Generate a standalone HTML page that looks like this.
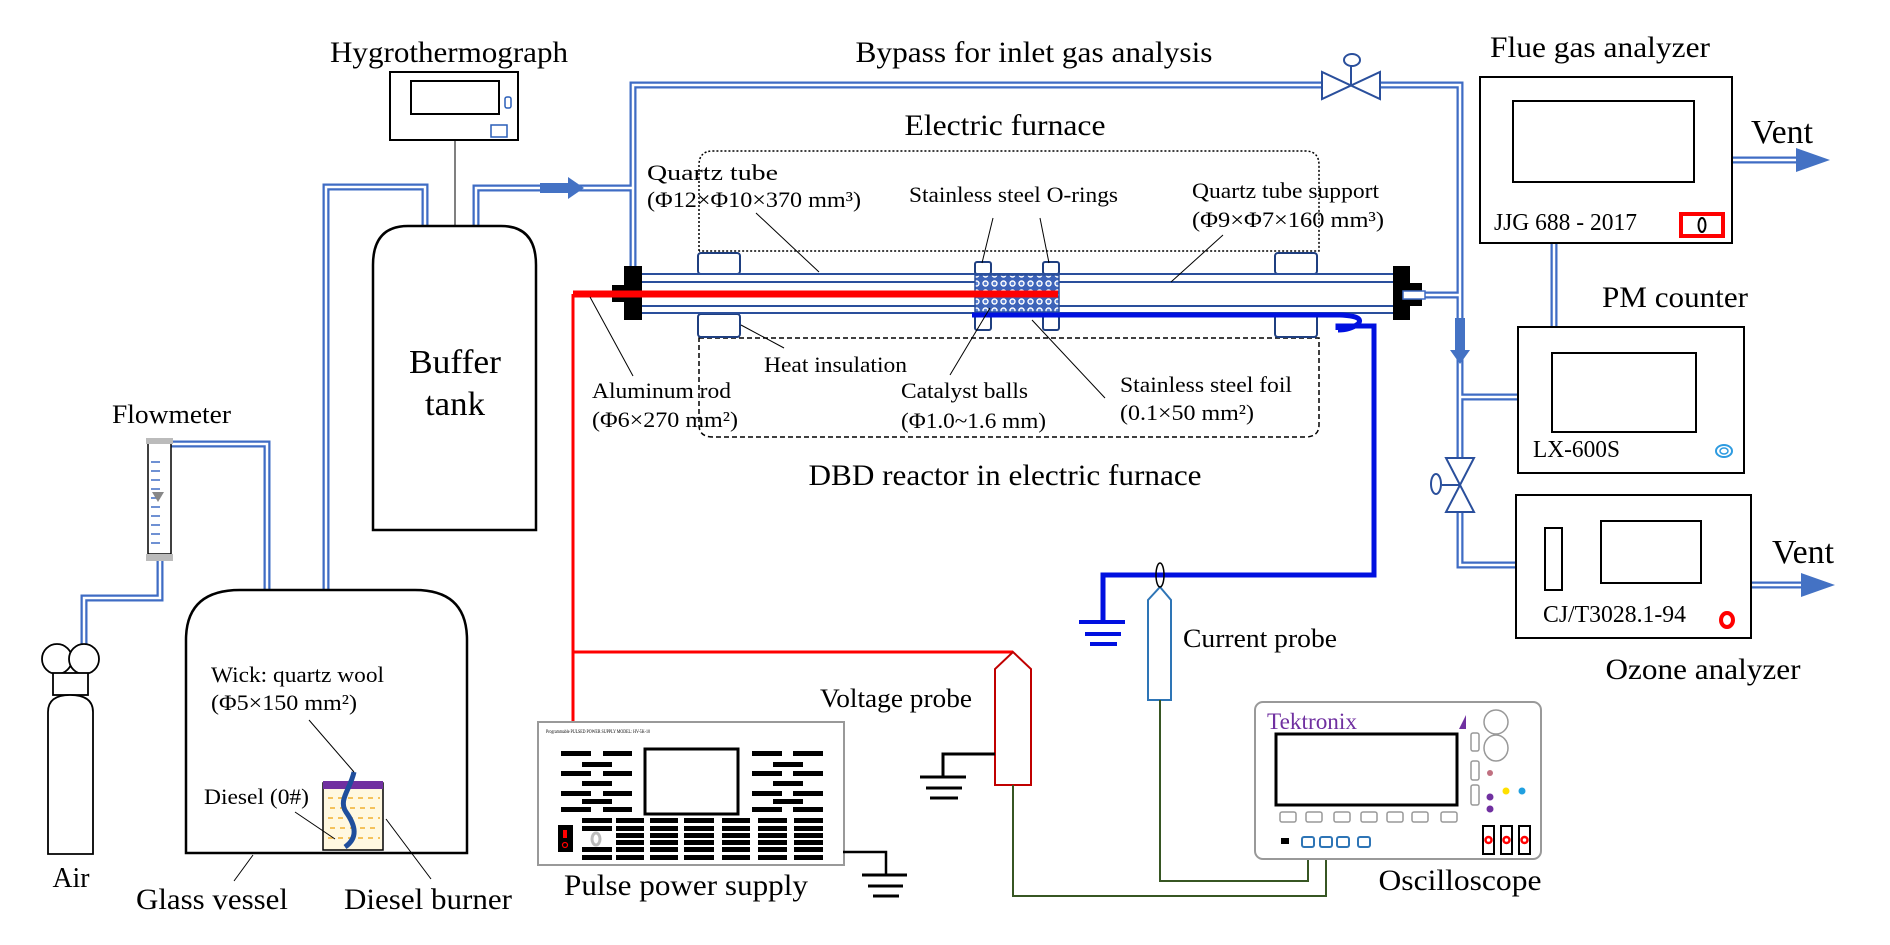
<!DOCTYPE html>
<html><head><meta charset="utf-8"><style>
html,body{margin:0;padding:0;background:#fff;}
svg{display:block;}
text{font-family:"Liberation Serif",serif;fill:#000;}
</style></head><body>
<svg width="1890" height="945" viewBox="0 0 1890 945" xmlns="http://www.w3.org/2000/svg">
<defs>
<pattern id="cat" width="9" height="9" patternUnits="userSpaceOnUse">
<rect width="9" height="9" fill="#3d63b8"/>
<circle cx="4.5" cy="4.5" r="3.2" fill="#fff"/>
<circle cx="4.5" cy="4.5" r="1.8" fill="#5a80d0"/>
</pattern>
</defs>
<rect width="1890" height="945" fill="#fff"/>

<!-- pipes -->
<g fill="none" stroke-linejoin="miter">
<g stroke="#3f6cc4" stroke-width="7">
<path d="M171,444 H267 V590"/>
<path d="M160,561 V598 H84 V644"/>
<path d="M326,590 V187 H425 V226"/>
<path d="M476,226 V188 H633"/>
<path d="M633,290 V85 H1322"/>
<path d="M1380,85 H1460 V458"/>
<path d="M1403,295 H1460"/>
<path d="M1460,397 H1518"/>
<path d="M1460,512 V565 H1516"/>
<path d="M1554,243 V327"/>
<path d="M1732,160 H1800"/>
<path d="M1751,585 H1805"/>
</g>
<g stroke="#fff" stroke-width="2.5">
<path d="M171,444 H267 V590"/>
<path d="M160,561 V598 H84 V644"/>
<path d="M326,590 V187 H425 V226"/>
<path d="M476,226 V188 H633"/>
<path d="M633,290 V85 H1322"/>
<path d="M1380,85 H1460 V458"/>
<path d="M1403,295 H1460"/>
<path d="M1460,397 H1518"/>
<path d="M1460,512 V565 H1516"/>
<path d="M1554,243 V327"/>
<path d="M1732,160 H1800"/>
<path d="M1751,585 H1805"/>
</g>
</g>
<!-- arrows -->
<rect x="540" y="183" width="30" height="10" fill="#4472c4"/>
<polygon points="568,177 584,188 568,199" fill="#4472c4"/>
<rect x="1455" y="318" width="10" height="34" fill="#4472c4"/>
<polygon points="1450,350 1470,350 1460,364" fill="#4472c4"/>
<polygon points="1796,148 1830,160 1796,172" fill="#4472c4"/>
<polygon points="1801,573 1835,585 1801,597" fill="#4472c4"/>

<!-- valves -->
<g fill="#fff" stroke="#2a4f9c" stroke-width="2">
<polygon points="1322,72 1322,99 1380,72 1380,99"/>
<line x1="1351" y1="85" x2="1351" y2="66"/>
<ellipse cx="1352" cy="60" rx="8" ry="6"/>
<polygon points="1446,458 1474,458 1446,512 1474,512"/>
<line x1="1460" y1="485" x2="1442" y2="485"/>
<ellipse cx="1436" cy="484" rx="5" ry="10"/>
</g>

<!-- hygrothermograph -->
<rect x="390" y="72" width="128" height="68" fill="#fff" stroke="#000" stroke-width="2"/>
<rect x="411" y="81" width="88" height="33" fill="#fff" stroke="#000" stroke-width="2"/>
<rect x="505" y="97" width="6" height="11" rx="2" fill="none" stroke="#2a5fb8" stroke-width="1.5"/>
<rect x="491" y="125" width="16" height="12" fill="none" stroke="#2a5fb8" stroke-width="1.5"/>
<line x1="455" y1="140" x2="455" y2="226" stroke="#000" stroke-width="1"/>
<text x="330" y="62" font-size="30" textLength="238" lengthAdjust="spacingAndGlyphs">Hygrothermograph</text>

<!-- buffer tank -->
<path d="M373,530 V265 Q373,226 408,226 H501 Q536,226 536,265 V530 Z" fill="#fff" stroke="#000" stroke-width="2.5"/>
<text x="455" y="373" font-size="34" text-anchor="middle" textLength="92" lengthAdjust="spacingAndGlyphs">Buffer</text>
<text x="455" y="415" font-size="34" text-anchor="middle" textLength="60" lengthAdjust="spacingAndGlyphs">tank</text>

<!-- flowmeter -->
<rect x="148" y="441" width="23" height="113" fill="#fff" stroke="#000" stroke-width="1.5"/>
<rect x="146" y="438" width="27" height="6" fill="#bbb"/>
<rect x="146" y="554" width="27" height="7" fill="#bbb"/>
<g stroke="#3f6cc4" stroke-width="1.5">
<line x1="151" y1="462" x2="160" y2="462"/><line x1="151" y1="471" x2="160" y2="471"/>
<line x1="151" y1="480" x2="160" y2="480"/><line x1="151" y1="489" x2="160" y2="489"/>
<line x1="151" y1="498" x2="160" y2="498"/><line x1="151" y1="507" x2="160" y2="507"/>
<line x1="151" y1="516" x2="160" y2="516"/><line x1="151" y1="525" x2="160" y2="525"/>
<line x1="151" y1="534" x2="160" y2="534"/><line x1="151" y1="543" x2="160" y2="543"/>
</g>
<polygon points="152,492 164,492 158,502" fill="#888"/>
<text x="112" y="423" font-size="26" textLength="119" lengthAdjust="spacingAndGlyphs">Flowmeter</text>

<!-- cylinder -->
<ellipse cx="57" cy="659" rx="15" ry="15" fill="#fff" stroke="#000" stroke-width="1.8"/>
<ellipse cx="84" cy="659" rx="15" ry="15" fill="#fff" stroke="#000" stroke-width="1.8"/>
<rect x="53" y="673" width="35" height="22" fill="#fff" stroke="#000" stroke-width="1.8"/>
<path d="M48,854 V712 Q48,695 70,695 Q93,695 93,712 V854 Z" fill="#fff" stroke="#000" stroke-width="1.8"/>
<text x="71" y="887" font-size="28" text-anchor="middle" textLength="37" lengthAdjust="spacingAndGlyphs">Air</text>

<!-- glass vessel -->
<path d="M186,853 V640 Q186,590 240,590 H415 Q467,590 467,640 V853 Z" fill="#fff" stroke="#000" stroke-width="2.5"/>
<!-- burner -->
<rect x="323" y="783" width="60" height="67" fill="#fff8e0" stroke="#000" stroke-width="1.5"/>
<rect x="323" y="781" width="60" height="8" fill="#7030a0"/>
<g stroke="#f0b030" stroke-width="1.5" stroke-dasharray="5,5">
<line x1="328" y1="798" x2="380" y2="798"/><line x1="330" y1="808" x2="380" y2="808"/>
<line x1="328" y1="818" x2="380" y2="818"/><line x1="330" y1="828" x2="380" y2="828"/>
<line x1="328" y1="838" x2="380" y2="838"/>
</g>
<path d="M354,772 C350,790 338,800 346,812 C356,826 358,838 345,847" fill="none" stroke="#1f4e9c" stroke-width="5"/>
<g stroke="#000" stroke-width="1">
<line x1="309" y1="720" x2="354" y2="772"/>
<line x1="295" y1="812" x2="335" y2="839"/>
<line x1="386" y1="819" x2="431" y2="879"/>
<line x1="253" y1="855" x2="234" y2="881"/>
</g>
<text x="211" y="682" font-size="22" textLength="173" lengthAdjust="spacingAndGlyphs">Wick: quartz wool</text>
<text x="211" y="710" font-size="22" textLength="146" lengthAdjust="spacingAndGlyphs">(Φ5×150 mm²)</text>
<text x="204" y="804" font-size="22" textLength="105" lengthAdjust="spacingAndGlyphs">Diesel (0#)</text>
<text x="212" y="909" font-size="30" text-anchor="middle" textLength="152" lengthAdjust="spacingAndGlyphs">Glass vessel</text>
<text x="428" y="909" font-size="30" text-anchor="middle" textLength="168" lengthAdjust="spacingAndGlyphs">Diesel burner</text>

<!-- furnace outlines -->
<path d="M699,251 V165 Q699,151 713,151 H1305 Q1319,151 1319,165 V251 H699" fill="none" stroke="#000" stroke-width="1.5" stroke-dasharray="2,2"/>
<path d="M699,338 H1319 V425 Q1319,437 1305,437 H713 Q699,437 699,425 Z" fill="none" stroke="#000" stroke-width="1.5" stroke-dasharray="5,3"/>
<text x="1005" y="135" font-size="30" text-anchor="middle" textLength="201" lengthAdjust="spacingAndGlyphs">Electric furnace</text>
<text x="1034" y="62" font-size="30" text-anchor="middle" textLength="357" lengthAdjust="spacingAndGlyphs">Bypass for inlet gas analysis</text>
<text x="1005" y="485" font-size="30" text-anchor="middle" textLength="393" lengthAdjust="spacingAndGlyphs">DBD reactor in electric furnace</text>

<!-- insulation blocks -->
<g fill="#fff" stroke="#1f3f80" stroke-width="2">
<rect x="698" y="253" width="42" height="21" rx="3"/>
<rect x="698" y="314" width="42" height="23" rx="3"/>
<rect x="1275" y="253" width="42" height="21" rx="3"/>
<rect x="1275" y="314" width="42" height="23" rx="3"/>
<rect x="975" y="262" width="16" height="12" rx="2"/>
<rect x="1043" y="262" width="16" height="12" rx="2"/>
<rect x="975" y="316" width="16" height="14" rx="2"/>
<rect x="1043" y="316" width="16" height="14" rx="2"/>
</g>
<!-- tube -->
<rect x="630" y="274" width="773" height="39" fill="#fff" stroke="#2a4f9c" stroke-width="2"/>
<line x1="630" y1="282" x2="1403" y2="282" stroke="#2a4f9c" stroke-width="2"/>
<line x1="630" y1="306" x2="1403" y2="306" stroke="#2a4f9c" stroke-width="2"/>
<rect x="975" y="275" width="84" height="37" fill="url(#cat)" stroke="#2a4f9c" stroke-width="1.5"/>
<!-- end caps -->
<path d="M624,266 H642 V320 H624 V302 H612 V285 H624 Z" fill="#000"/>
<path d="M1393,266 H1410 V283 H1422 V306 H1410 V320 H1393 Z" fill="#000"/>
<rect x="1403" y="291" width="22" height="8" fill="#fff" stroke="#3f6cc4" stroke-width="1.5"/>
<!-- red rod -->
<line x1="573" y1="294" x2="1058" y2="294" stroke="#ff0000" stroke-width="7"/>
<path d="M573,294 V722 M573,652 H1013" fill="none" stroke="#ff0000" stroke-width="3"/>
<!-- blue foil wire -->
<path d="M972,315 H1340 Q1365,316 1358,324 Q1350,330 1338,330 M1338,330 V326 H1374 V575 H1103 V622" fill="none" stroke="#0010e0" stroke-width="5"/>
<g stroke="#0010e0" stroke-width="4">
<line x1="1079" y1="622" x2="1125" y2="622"/>
<line x1="1085" y1="634" x2="1121" y2="634"/>
<line x1="1090" y1="644" x2="1117" y2="644"/>
</g>

<!-- leaders -->
<g stroke="#000" stroke-width="1">
<line x1="756" y1="213" x2="819" y2="272"/>
<line x1="993" y1="218" x2="982" y2="263"/>
<line x1="1040" y1="218" x2="1049" y2="263"/>
<line x1="1223" y1="235" x2="1171" y2="282"/>
<line x1="741" y1="325" x2="784" y2="348"/>
<line x1="590" y1="297" x2="633" y2="376"/>
<line x1="990" y1="308" x2="950" y2="375"/>
<line x1="1032" y1="320" x2="1105" y2="398"/>
</g>
<g font-size="22">
<text x="647" y="180" textLength="131" lengthAdjust="spacingAndGlyphs">Quartz tube</text>
<text x="647" y="207" textLength="214" lengthAdjust="spacingAndGlyphs">(Φ12×Φ10×370 mm³)</text>
<text x="909" y="202" textLength="209" lengthAdjust="spacingAndGlyphs">Stainless steel O-rings</text>
<text x="1192" y="198" textLength="187" lengthAdjust="spacingAndGlyphs">Quartz tube support</text>
<text x="1192" y="227" textLength="192" lengthAdjust="spacingAndGlyphs">(Φ9×Φ7×160 mm³)</text>
<text x="764" y="372" textLength="143" lengthAdjust="spacingAndGlyphs">Heat insulation</text>
<text x="592" y="398" textLength="139" lengthAdjust="spacingAndGlyphs">Aluminum rod</text>
<text x="592" y="427" textLength="146" lengthAdjust="spacingAndGlyphs">(Φ6×270 mm²)</text>
<text x="901" y="398" textLength="127" lengthAdjust="spacingAndGlyphs">Catalyst balls</text>
<text x="901" y="428" textLength="145" lengthAdjust="spacingAndGlyphs">(Φ1.0~1.6 mm)</text>
<text x="1120" y="392" textLength="172" lengthAdjust="spacingAndGlyphs">Stainless steel foil</text>
<text x="1120" y="420" textLength="134" lengthAdjust="spacingAndGlyphs">(0.1×50 mm²)</text>
</g>

<!-- flue gas analyzer -->
<rect x="1480" y="77" width="252" height="166" fill="#fff" stroke="#000" stroke-width="2"/>
<rect x="1513" y="101" width="181" height="81" fill="#fff" stroke="#000" stroke-width="2"/>
<rect x="1681" y="214" width="42" height="22" fill="#fff" stroke="#ff0000" stroke-width="4"/>
<ellipse cx="1702" cy="225" rx="3.5" ry="7" fill="none" stroke="#000" stroke-width="2"/>
<text x="1494" y="230" font-size="24" textLength="143" lengthAdjust="spacingAndGlyphs">JJG 688 - 2017</text>
<text x="1600" y="57" font-size="30" text-anchor="middle" textLength="220" lengthAdjust="spacingAndGlyphs">Flue gas analyzer</text>
<text x="1782" y="143" font-size="34" text-anchor="middle" textLength="62" lengthAdjust="spacingAndGlyphs">Vent</text>

<!-- PM counter -->
<rect x="1518" y="327" width="226" height="146" fill="#fff" stroke="#000" stroke-width="2"/>
<rect x="1552" y="353" width="144" height="79" fill="#fff" stroke="#000" stroke-width="2"/>
<text x="1533" y="457" font-size="24" textLength="87" lengthAdjust="spacingAndGlyphs">LX-600S</text>
<ellipse cx="1724" cy="451" rx="8" ry="6" fill="none" stroke="#2e9be0" stroke-width="2"/>
<ellipse cx="1724" cy="451" rx="4" ry="3" fill="none" stroke="#2e9be0" stroke-width="1.5"/>
<text x="1675" y="307" font-size="30" text-anchor="middle" textLength="146" lengthAdjust="spacingAndGlyphs">PM counter</text>

<!-- ozone analyzer -->
<rect x="1516" y="495" width="235" height="143" fill="#fff" stroke="#000" stroke-width="2"/>
<rect x="1545" y="528" width="17" height="62" fill="#fff" stroke="#000" stroke-width="2"/>
<rect x="1601" y="521" width="100" height="62" fill="#fff" stroke="#000" stroke-width="2"/>
<text x="1543" y="622" font-size="24" textLength="143" lengthAdjust="spacingAndGlyphs">CJ/T3028.1-94</text>
<ellipse cx="1727" cy="620" rx="6" ry="7" fill="none" stroke="#ff0000" stroke-width="4"/>
<text x="1703" y="679" font-size="30" text-anchor="middle" textLength="195" lengthAdjust="spacingAndGlyphs">Ozone analyzer</text>
<text x="1803" y="563" font-size="34" text-anchor="middle" textLength="62" lengthAdjust="spacingAndGlyphs">Vent</text>

<!-- current probe -->
<path d="M1148,700 V600 L1160,587 L1171,600 V700 Z" fill="#fff" stroke="#2e75b6" stroke-width="2"/>
<ellipse cx="1160" cy="575" rx="4" ry="12" fill="none" stroke="#000" stroke-width="1.5"/>
<text x="1183" y="647" font-size="26" textLength="154" lengthAdjust="spacingAndGlyphs">Current probe</text>

<!-- voltage probe -->
<path d="M995,785 V669 L1013,652 L1031,669 V785 Z" fill="#fff" stroke="#c00000" stroke-width="2"/>
<text x="820" y="707" font-size="26" textLength="152" lengthAdjust="spacingAndGlyphs">Voltage probe</text>
<path d="M995,754 H943 V777" fill="none" stroke="#000" stroke-width="3"/>
<g stroke="#000" stroke-width="3">
<line x1="920" y1="777" x2="966" y2="777"/>
<line x1="926" y1="788" x2="962" y2="788"/>
<line x1="930" y1="798" x2="958" y2="798"/>
</g>

<!-- green wires -->
<path d="M1013,785 V896 H1326 V847" fill="none" stroke="#375623" stroke-width="2"/>
<path d="M1160,700 V881 H1308 V847" fill="none" stroke="#375623" stroke-width="2"/>

<!-- pulse power supply -->
<rect x="538" y="722" width="306" height="143" fill="#fff" stroke="#999" stroke-width="2"/>
<text x="546" y="733" font-size="5" textLength="104" lengthAdjust="spacingAndGlyphs">Programmable PULSED POWER SUPPLY MODEL: HV-5K-10</text>
<rect x="645" y="749" width="93" height="65" fill="#fff" stroke="#000" stroke-width="3"/>
<g fill="#000">
<rect x="561" y="751" width="30" height="5"/><rect x="603" y="751" width="29" height="5"/>
<rect x="582" y="762" width="30" height="5"/>
<rect x="561" y="771" width="30" height="5"/><rect x="603" y="771" width="29" height="5"/>
<rect x="582" y="781" width="30" height="5"/>
<rect x="561" y="791" width="30" height="5"/><rect x="603" y="791" width="29" height="5"/>
<rect x="582" y="799" width="30" height="5"/>
<rect x="561" y="807" width="30" height="5"/><rect x="603" y="807" width="29" height="5"/>
<rect x="752" y="751" width="30" height="5"/><rect x="793" y="751" width="30" height="5"/>
<rect x="773" y="762" width="30" height="5"/>
<rect x="752" y="771" width="30" height="5"/><rect x="793" y="771" width="30" height="5"/>
<rect x="773" y="781" width="30" height="5"/>
<rect x="752" y="791" width="30" height="5"/><rect x="793" y="791" width="30" height="5"/>
<rect x="773" y="799" width="30" height="5"/>
<rect x="752" y="807" width="30" height="5"/><rect x="793" y="807" width="30" height="5"/>
<rect x="582" y="818" width="30" height="5"/><rect x="582" y="826" width="30" height="5"/>
<rect x="582" y="847" width="30" height="5"/><rect x="582" y="855" width="30" height="5"/>
</g>
<g fill="#000">
<rect x="616" y="818" width="28" height="5"/><rect x="616" y="826" width="28" height="5"/><rect x="616" y="833" width="28" height="5"/><rect x="616" y="840" width="28" height="5"/><rect x="616" y="847" width="28" height="5"/><rect x="616" y="855" width="28" height="5"/>
<rect x="650" y="818" width="28" height="5"/><rect x="650" y="826" width="28" height="5"/><rect x="650" y="833" width="28" height="5"/><rect x="650" y="840" width="28" height="5"/><rect x="650" y="847" width="28" height="5"/><rect x="650" y="855" width="28" height="5"/>
<rect x="684" y="818" width="30" height="5"/><rect x="684" y="826" width="30" height="5"/><rect x="684" y="833" width="30" height="5"/><rect x="684" y="840" width="30" height="5"/><rect x="684" y="847" width="30" height="5"/><rect x="684" y="855" width="30" height="5"/>
<rect x="722" y="818" width="28" height="5"/><rect x="722" y="826" width="28" height="5"/><rect x="722" y="833" width="28" height="5"/><rect x="722" y="840" width="28" height="5"/><rect x="722" y="847" width="28" height="5"/><rect x="722" y="855" width="28" height="5"/>
<rect x="758" y="818" width="29" height="5"/><rect x="758" y="826" width="29" height="5"/><rect x="758" y="833" width="29" height="5"/><rect x="758" y="840" width="29" height="5"/><rect x="758" y="847" width="29" height="5"/><rect x="758" y="855" width="29" height="5"/>
<rect x="794" y="818" width="29" height="5"/><rect x="794" y="826" width="29" height="5"/><rect x="794" y="833" width="29" height="5"/><rect x="794" y="840" width="29" height="5"/><rect x="794" y="847" width="29" height="5"/><rect x="794" y="855" width="29" height="5"/>
</g>
<rect x="558" y="825" width="15" height="27" fill="#000"/>
<rect x="563" y="830" width="4" height="8" fill="#ff0000"/>
<circle cx="565" cy="845" r="2.5" fill="none" stroke="#ff0000" stroke-width="1.2"/>
<ellipse cx="596" cy="839" rx="4" ry="6" fill="none" stroke="#bbb" stroke-width="3"/>
<text x="686" y="895" font-size="30" text-anchor="middle" textLength="244" lengthAdjust="spacingAndGlyphs">Pulse power supply</text>
<path d="M843,852 H886 V875" fill="none" stroke="#000" stroke-width="2.5"/>
<g stroke="#000" stroke-width="3">
<line x1="862" y1="875" x2="907" y2="875"/>
<line x1="868" y1="886" x2="903" y2="886"/>
<line x1="873" y1="896" x2="899" y2="896"/>
</g>

<!-- oscilloscope -->
<rect x="1255" y="702" width="286" height="157" rx="8" fill="#fff" stroke="#999" stroke-width="2"/>
<text x="1267" y="729" font-size="23" style="fill:#7030a0" textLength="90" lengthAdjust="spacingAndGlyphs">Tektronix</text>
<polygon points="1466,715 1466,729 1459,729" fill="#7030a0"/>
<rect x="1276" y="734" width="181" height="71" fill="#fff" stroke="#000" stroke-width="3"/>
<g fill="#fff" stroke="#999" stroke-width="1.5">
<rect x="1280" y="812" width="16" height="10" rx="2"/><rect x="1306" y="812" width="16" height="10" rx="2"/>
<rect x="1334" y="812" width="16" height="10" rx="2"/><rect x="1361" y="812" width="16" height="10" rx="2"/>
<rect x="1387" y="812" width="16" height="10" rx="2"/><rect x="1412" y="812" width="16" height="10" rx="2"/>
<rect x="1441" y="812" width="16" height="10" rx="2"/>
<rect x="1471" y="733" width="8" height="18" rx="2"/><rect x="1471" y="761" width="8" height="19" rx="2"/>
<rect x="1471" y="785" width="8" height="20" rx="2"/>
<ellipse cx="1496" cy="722" rx="12" ry="12"/><ellipse cx="1496" cy="748" rx="12" ry="13"/>
</g>
<circle cx="1490" cy="773" r="3" fill="#c07080"/>
<circle cx="1490" cy="797" r="3.5" fill="#7030a0"/>
<circle cx="1490" cy="809" r="3.5" fill="#7030a0"/>
<circle cx="1506" cy="791" r="3.5" fill="#ffe000"/>
<circle cx="1522" cy="791" r="3.5" fill="#20a0e0"/>
<rect x="1281" y="838" width="8" height="6" fill="#000"/>
<g fill="#fff" stroke="#2e75b6" stroke-width="2">
<rect x="1302" y="837" width="12" height="10" rx="2"/><rect x="1320" y="837" width="12" height="10" rx="2"/>
<rect x="1337" y="837" width="12" height="10" rx="2"/><rect x="1358" y="837" width="12" height="10" rx="2"/>
</g>
<g fill="#fff" stroke="#000" stroke-width="2">
<rect x="1483" y="826" width="11" height="28"/><rect x="1501" y="826" width="11" height="28"/><rect x="1519" y="826" width="11" height="28"/>
</g>
<g fill="none" stroke="#ff0000" stroke-width="2.5">
<circle cx="1488.5" cy="840" r="3"/><circle cx="1506.5" cy="840" r="3"/><circle cx="1524.5" cy="840" r="3"/>
</g>
<text x="1460" y="890" font-size="30" text-anchor="middle" textLength="163" lengthAdjust="spacingAndGlyphs">Oscilloscope</text>
</svg>
</body></html>
